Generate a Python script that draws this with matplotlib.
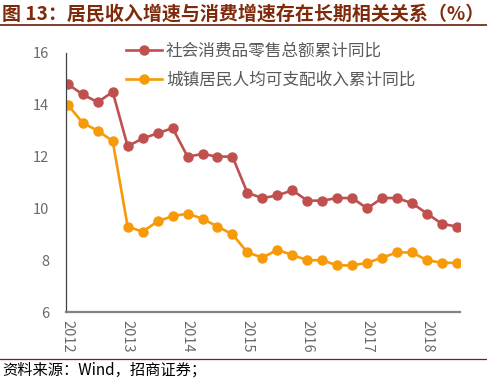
import matplotlib
matplotlib.use("Agg")
import matplotlib.pyplot as plt
from matplotlib.lines import Line2D

plt.rcParams['font.family'] = ['Noto Sans CJK SC', 'DejaVu Sans']

years = ['2012', '2013', '2014', '2015', '2016', '2017', '2018']
retail = [14.8, 14.4, 14.1, 14.5,
          12.4, 12.7, 12.9, 13.1,
          12.0, 12.1, 12.0, 12.0,
          10.6, 10.4, 10.5, 10.7,
          10.3, 10.3, 10.4, 10.4,
          10.0, 10.4, 10.4, 10.2,
          9.8, 9.4, 9.3]
income = [14.0, 13.3, 13.0, 12.6,
          9.3, 9.1, 9.5, 9.7,
          9.8, 9.6, 9.3, 9.0,
          8.3, 8.1, 8.4, 8.2,
          8.0, 8.0, 7.8, 7.8,
          7.9, 8.1, 8.3, 8.3,
          8.0, 7.9, 7.9]
label_retail = '社会消费品零售总额累计同比'
label_income = '城镇居民人均可支配收入累计同比'
title = '图 13：居民收入增速与消费增速存在长期相关关系（%）'
source = '资料来源：Wind，招商证券；'

W, H = 487, 381
fig = plt.figure(figsize=(W / 100, H / 100), dpi=100)
ax = fig.add_axes([66 / W, 1 - 312 / H, (460 - 66) / W, (312 - 53) / H])

x = list(range(len(retail)))
red = '#C0504D'
orange = '#F79A0A'
ax.plot(x, retail, color=red, lw=1.9, marker='o', ms=6.5, label=label_retail)
ax.plot(x, income, color=orange, lw=1.9, marker='o', ms=6.5, label=label_income)

ax.set_ylim(6, 16)
ax.set_yticks([6, 8, 10, 12, 14, 16])
ax.set_xlim(-0.12, 26.2)
ax.set_xticks([4 * i for i in range(len(years))])
ax.set_xticklabels(years, rotation=270)
ax.tick_params(axis='both', length=0, colors='#6A6A6A', labelsize=10.5)
ax.tick_params(axis='x', pad=6)
ax.tick_params(axis='y', pad=12)
for s in ['top', 'right']:
    ax.spines[s].set_visible(False)
ax.spines['left'].set_color('#404040')
ax.spines['left'].set_linewidth(0.9)
ax.spines['bottom'].set_color('#808080')
ax.spines['bottom'].set_linewidth(1.6)

leg = fig.legend(loc='upper left', bbox_to_anchor=(126 / W, 1 - 43 / H), frameon=False,
                 fontsize=12, handlelength=2.15, handletextpad=0.25, labelspacing=0.7,
                 borderpad=0, borderaxespad=0)
for t in leg.get_texts():
    t.set_color('#595959')

fig.text(2 / W, 1 - 14 / H, title, fontsize=13.7, fontweight='bold', color='#7F2A0A',
         ha='left', va='center')
fig.add_artist(Line2D([0, 1], [1 - 25 / H, 1 - 25 / H], color='#6B1E0A', lw=1.2))
fig.add_artist(Line2D([0, 1], [1 - 359 / H, 1 - 359 / H], color='#7F1A1A', lw=0.9))
fig.text(2 / W, 1 - 370 / H, source, fontsize=11, color='#000000', ha='left', va='center')

fig.savefig('out.png', dpi=100)
